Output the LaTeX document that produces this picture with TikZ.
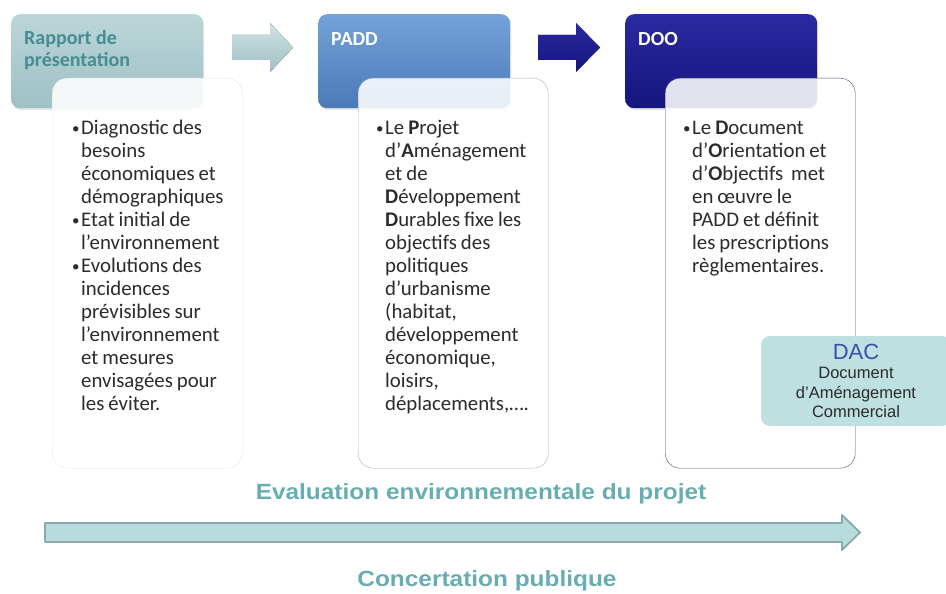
\documentclass[tikz,border=0pt]{standalone}
\usepackage{fontspec}
\setmainfont{Carlito}
\newfontfamily\arialfont{Liberation Sans}
\usetikzlibrary{positioning, shadows}

\definecolor{rapportHaut}{HTML}{BBD6D9}
\definecolor{rapportBas}{HTML}{9FC0C4}
\definecolor{rapportTexte}{HTML}{468D93}
\definecolor{paddHaut}{HTML}{74A2D9}
\definecolor{paddBas}{HTML}{4A7BB8}
\definecolor{dooHaut}{HTML}{2A2AA2}
\definecolor{dooBas}{HTML}{15157E}
\definecolor{texteGris}{HTML}{2B2B2B}
\definecolor{dacFond}{HTML}{BEE0E1}
\definecolor{dacBleu}{HTML}{3A4FA8}
\definecolor{sarcelle}{HTML}{68ADB2}
\definecolor{flecheFond}{HTML}{B8DCDD}
\definecolor{flecheBord}{HTML}{88AAAB}

% ragged text with tight word spaces
\newcommand{\serre}{\raggedright\spaceskip=4pt\relax}
% one bullet item with hanging lines
\newcommand{\puce}{\par\noindent\hangindent=9pt\hangafter=1%
  \makebox[9pt][l]{\raisebox{0.5pt}{\fontsize{15}{15}\selectfont\textbullet}}}

\begin{document}
\begin{tikzpicture}[%
    x = 1pt, y = -1pt,
    entete/.style = {%
      rounded corners = 9pt,
      minimum width = 192, minimum height = 94,
      anchor = north west, inner sep = 0,
      drop shadow = {opacity = 0.2, shadow xshift = 1pt, shadow yshift = -2pt}},
    titre/.style = {%
      font = \fontsize{20}{22}\selectfont\bfseries,
      align = flush left, inner sep = 0},
    contenu/.style = {%
      fill = white, fill opacity = 0.88,
      rounded corners = 15pt,
      minimum width = 190, minimum height = 390,
      inner sep = 0},
    liste/.style = {%
      text width = 180pt, inner sep = 0,
      text = texteGris,
      font = \fontsize{20.8}{23}\selectfont},
    bandeau/.style = {%
      font = \arialfont\bfseries\fontsize{22}{24}\selectfont,
      text = sarcelle, xscale = 1.11, transform shape},
    fleche/.style = {line join = round}
  ]

\useasboundingbox (0,0) rectangle (946,594);

% headers
\node[entete, top color = rapportHaut, bottom color = rapportBas] (rapport) at (11,14) {};
\node[entete, top color = paddHaut, bottom color = paddBas]       (padd)    at (318,14) {};
\node[entete, top color = dooHaut, bottom color = dooBas]         (doo)     at (625,14) {};

\node[titre, text = rapportTexte] (rapport titre) [below right = 16pt and 13pt of rapport.north west] {Rapport de\\présentation};
\node[titre, text = white]        (padd titre)    [below right = 18pt and 13pt of padd.north west] {PADD};
\node[titre, text = white]        (doo titre)     [below right = 18pt and 13pt of doo.north west] {DOO};

% arrows between the headers
\fill[fleche, top color = rapportHaut!70!white, bottom color = rapportBas]
  (232,35) -- (270,35) -- (270,23) -- (293,47.5) -- (270,72) -- (270,60) -- (232,60) -- cycle;
\fill[fleche, top color = dooHaut, bottom color = dooBas]
  (538,35) -- (576,35) -- (576,23) -- (600,47.5) -- (576,72) -- (576,60) -- (538,60) -- cycle;

% content boxes
\node[contenu, draw = black!10]           (rapport boite) [below right = 64pt and 41pt of rapport.north west] {};
\node[contenu, draw = paddBas!45!gray!60] (padd boite)    [below right = 64pt and 40pt of padd.north west] {};
\node[contenu, draw = dooBas!50!gray]     (doo boite)     [below right = 64pt and 40pt of doo.north west] {};

\node[liste] (rapport liste) [below right = 33pt and 20pt of rapport boite.north west] {\serre
  \puce Diagnostic des\newline besoins\newline économiques et\newline démographiques
  \puce Etat initial de\newline l’environnement
  \puce Evolutions des\newline incidences\newline prévisibles sur\newline l’environnement\newline et mesures\newline envisagées pour\newline les éviter.\par};

\node[liste] (padd liste) [below right = 33pt and 18pt of padd boite.north west] {\serre
  \puce Le \textbf{P}rojet\newline d’\textbf{A}ménagement\newline et de\newline \textbf{D}éveloppement\newline
  \textbf{D}urables fixe les\newline objectifs des\newline politiques\newline d’urbanisme\newline (habitat,\newline
  développement\newline économique,\newline loisirs,\newline déplacements,….\par};

\node[liste] (doo liste) [below right = 33pt and 18pt of doo boite.north west] {\serre
  \puce Le \textbf{D}ocument\newline d’\textbf{O}rientation et\newline d’\textbf{O}bjectifs~ met\newline en œuvre le\newline
  PADD et définit\newline les prescriptions\newline règlementaires.\par};

% DAC box
\node[fill = dacFond, rounded corners = 9pt, minimum width = 190, minimum height = 90,
      inner sep = 0, align = center, text = texteGris,
      font = \arialfont\fontsize{16.5}{19.5}\selectfont] (dac) at (856,381)
  {{\fontsize{22}{22}\selectfont\color{dacBleu}DAC}\\Document\\d’Aménagement\\Commercial};

% bottom band
\node[bandeau] (evaluation) at (481,494) {Evaluation environnementale du projet};
\filldraw[fleche, fill = flecheFond, draw = flecheBord, line width = 1.8pt]
  (45,523) -- (842,523) -- (842,515) -- (860,532.5) -- (842,550) -- (842,542) -- (45,542) -- cycle;
\node[bandeau] (concertation) at (487,581) {Concertation publique};

\end{tikzpicture}
\end{document}
